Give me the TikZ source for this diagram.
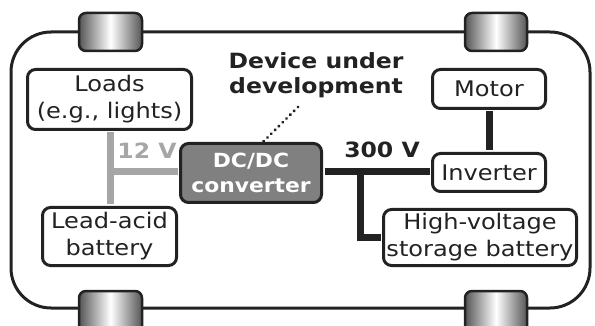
\documentclass[tikz,border=0pt]{standalone}
\usepackage{fontspec}
\setmainfont{DejaVu Sans}[FakeStretch=1.12]
\usetikzlibrary{shadings,decorations.markings}
\definecolor{ink}{HTML}{222222}
\definecolor{lowv}{HTML}{A6A6A6}
\definecolor{convfill}{HTML}{808080}
\definecolor{tyre}{HTML}{555555}
\begin{document}
\begin{tikzpicture}[x=1pt,y=-1pt,
  part/.style={draw=ink, line width=3pt, rounded corners=8pt, fill=white,
    align=center, inner sep=0pt, text=ink, font=\fontsize{21.5}{27}\selectfont},
  conv/.style={part, fill=convfill, draw=ink, text=white,
    font=\fontsize{19.5}{25}\selectfont\bfseries},
  wheel/.style={draw=ink, line width=2.5pt, rounded corners=7pt,
    left color=tyre, right color=tyre, middle color=white},
  lvline/.style={draw=lowv, line width=7pt},
  hvline/.style={draw=ink, line width=7pt},
  dotline/.style={decoration={markings,
      mark=between positions 0 and 1 step 5.4pt with {\fill[ink] (0,0) circle (1.7pt);}},
    decorate},
  tag/.style={font=\fontsize{21}{26}\selectfont\bfseries, inner sep=0pt}]
\useasboundingbox (0,0) rectangle (595,326);

% car body
\draw[ink, line width=3pt, rounded corners=40pt] (11,32) rectangle (590,308);

% wheels
\shade[wheel] (79,13) rectangle (142,51);
\shade[wheel] (465,13) rectangle (527,51);
\shade[wheel] (79,291) rectangle (142,340);
\shade[wheel] (465,291) rectangle (527,340);

% bus junctions
\coordinate (lvj) at (110,172);
\coordinate (hvj) at (360,172);

% components
\node[part, minimum width=164pt, minimum height=60pt] (loads) at (109.5,99.5)
  {Loads\\(e.g., lights)};
\node[part, minimum width=134pt, minimum height=58pt] (lead) at (109.5,236.5)
  {Lead-acid\\battery};
\node[conv, minimum width=141pt, minimum height=59pt] (dcdc) at (251,173)
  {DC/DC\\converter};
\node[part, minimum width=113pt, minimum height=39pt] (motor) at (489,89)
  {Motor};
\node[part, minimum width=113pt, minimum height=38pt] (inv) at (489,172.5)
  {Inverter};
\node[part, minimum width=193pt, minimum height=56pt] (hvb) at (480,237.5)
  {High-voltage\\storage battery};

% wiring: 12 V bus (grey) and 300 V bus (black)
\draw[lvline, shorten <=1.5pt, shorten >=1.5pt] (loads.south -| lvj) -- (lead.north -| lvj);
\draw[lvline, shorten >=1.5pt] (lvj) -- (dcdc.west |- lvj);
\draw[hvline, shorten <=1.5pt, shorten >=1.5pt] (dcdc.east |- hvj) -- (inv.west |- hvj);
\draw[hvline, line join=miter, shorten >=1.5pt] (hvj) |- (hvb.west);
\draw[hvline, shorten <=1.5pt, shorten >=1.5pt] (motor.south) -- (inv.north);

% voltage labels
\node[tag, text=lowv] (v12) at (147,151) {12 V};
\node[tag, text=ink] (v300) at (382,150) {300 V};

% annotation
\node[tag, text=ink, align=center, font=\fontsize{21}{24.5}\selectfont\bfseries]
  (dev) at (316,75) {Device under\\development};
\coordinate (devtip) at (298,107);
\path[dotline] (devtip) -- (dcdc.north -| 263,0);
\end{tikzpicture}
\end{document}
